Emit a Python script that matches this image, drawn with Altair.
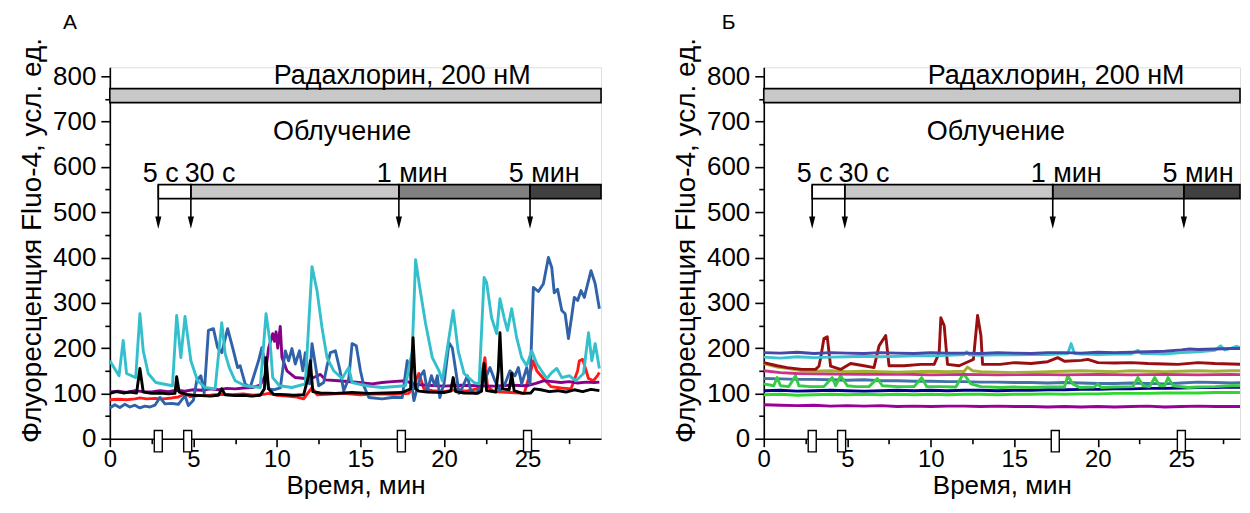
import altair as alt
import pandas as pd

FONT = "Arial"
FS_Y = 26      # y axis labels
FS_YT = 28     # y axis title
FS_X = 24      # x axis labels
FS_XT = 26     # x axis title
FS_ANN = 27    # annotations
FS_LET = 21    # panel letters

# ---------------- data (minutes, fluorescence units) ----------------
A_END = 29.4
B_END = 28.51
Y_TOP = 820

A_CYAN = [(0,172),(0.55,139),(0.8,217),(1.0,144),(1.55,135),(1.8,276),(2.0,194),(2.3,144),(2.75,124),(3.75,117),
          (4.0,272),(4.25,179),(4.5,270),(4.85,172),(5.25,128),(5.7,113),(6.3,110),(6.7,256),(6.9,188),(7.15,157),
          (7.5,128),(8.1,117),(9.0,113),(9.35,276),(9.6,210),(9.75,135),(10.15,117),(10.9,113),(11.7,121),(12.1,380),
          (12.4,327),(12.7,245),(13.0,179),(13.4,150),(13.9,133),(14.3,157),(14.5,124),(15.3,117),(16.3,113),(17.7,117),
          (18.1,194),(18.3,395),(18.55,334),(18.9,254),(19.3,179),(19.7,150),(19.9,128),(20.55,283),(20.85,194),(21.2,144),
          (21.8,124),(22.1,121),(22.4,356),(22.55,345),(22.85,267),(23.15,232),(23.35,309),(23.6,267),(23.8,239),(24.05,287),
          (24.35,223),(24.65,179),(24.95,161),(25.25,194),(25.55,166),(26.15,133),(26.45,146),(26.75,155),(27.05,135),(27.5,139),
          (27.9,128),(28.35,144),(28.65,234),(28.85,172),(29.05,210),(29.3,155)]
A_BLUE = [(0,68),(0.3,75),(0.6,69),(0.9,76),(1.2,70),(1.5,74),(1.8,68),(2.1,72),(2.4,70),(2.7,74),(3.0,91),(3.3,77),
          (3.7,78),(4.1,76),(4.5,95),(4.7,73),(5.0,85),(5.2,128),(5.45,139),(5.65,100),(5.9,239),(6.2,243),(6.45,201),
          (6.7,190),(7.05,243),(7.35,201),(7.65,157),(7.8,161),(8.1,121),(8.4,113),(8.9,172),(9.1,201),(9.25,172),(9.5,110),
          (9.8,108),(10.2,112),(10.5,194),(10.7,172),(10.9,199),(11.1,165),(11.35,194),(11.55,150),(11.7,190),(11.95,121),
          (12.1,210),(12.5,117),(12.8,124),(13.0,161),(13.2,190),(13.5,194),(13.75,155),(14.0,106),(14.3,133),(14.5,210),
          (14.75,205),(15.0,150),(15.2,117),(15.5,91),(16.3,88),(16.9,91),(17.5,91),(17.8,172),(18.0,139),(18.2,84),
          (18.6,139),(18.8,150),(19.0,106),(19.25,139),(19.45,117),(19.6,139),(19.75,91),(20.0,121),(20.3,212),(20.5,200),
          (20.75,139),(20.9,100),(21.1,113),(21.4,139),(21.6,106),(21.9,100),(22.2,113),(22.55,139),(22.75,157),(23.05,128),
          (23.35,106),(23.65,121),(23.95,150),(24.25,139),(24.45,157),(24.65,121),(24.95,157),(25.15,121),(25.35,334),
          (25.65,325),(25.95,342),(26.25,400),(26.45,378),(26.6,322),(26.8,330),(27.05,283),(27.25,276),(27.45,221),
          (27.65,272),(27.8,312),(28.0,305),(28.2,327),(28.4,312),(28.8,371),(29.05,342),(29.3,287)]
A_PURPLE = [(0,103),(0.5,105),(1.0,102),(1.5,106),(2.0,104),(2.5,103),(3.0,106),(3.5,104),(4.0,107),(4.5,105),(5.0,108),
            (5.5,107),(6.0,110),(6.5,108),(7.0,111),(7.5,110),(8.0,112),(8.5,113),(9.0,118),(9.3,140),(9.5,200),(9.75,232),
            (9.85,215),(9.95,236),(10.05,200),(10.2,248),(10.3,180),(10.6,150),(11.1,135),(11.7,133),(12.2,135),(12.6,142),
            (12.9,130),(13.7,128),(14.9,124),(15.7,121),(16.3,124),(16.9,126),(17.7,128),(18.2,120),(19.0,118),(20.0,116),
            (21.0,118),(22.0,117),(23.0,116),(24.0,118),(25.0,117),(25.5,122),(26.0,128),(26.5,126),(27.0,124),(27.5,126),
            (28.0,123),(28.5,125),(29.0,124),(29.3,125)]
A_RED = [(0,86),(0.5,87),(1.0,86),(1.5,88),(1.8,90),(2.2,88),(2.7,89),(3.2,88),(3.7,90),(4.1,92),(4.5,100),(4.8,93),
         (5.3,95),(6.0,96),(6.7,98),(7.3,97),(8.0,99),(8.6,96),(9.2,98),(9.5,100),(10.0,96),(10.6,94),(11.2,92),(11.6,88),
         (12.1,113),(12.4,97),(13.0,98),(14.0,100),(15.0,97),(16.0,99),(17.0,98),(17.9,100),(18.2,120),(18.5,144),(18.8,110),
         (19.3,106),(20.0,104),(20.7,108),(21.3,105),(22.0,110),(22.3,150),(22.45,179),(22.6,115),(23.0,104),(24.0,102),
         (24.8,100),(25.2,150),(25.35,172),(25.55,150),(25.95,133),(26.4,115),(27.0,112),(27.6,110),(28.0,150),(28.1,172),
         (28.3,175),(28.65,133),(28.95,128),(29.2,140),(29.3,146)]
A_BLACK = [(0,100),(0.4,104),(0.8,101),(1.2,103),(1.6,101),(1.8,155),(2.0,103),(2.5,100),(3.0,101),(3.5,99),(3.9,100),
           (4.0,137),(4.15,103),(4.6,98),(5.0,96),(5.5,95),(6.0,94),(6.5,96),(6.7,110),(6.9,97),(7.5,95),(8.0,96),(8.5,94),
           (9.0,96),(9.25,110),(9.35,179),(9.5,110),(9.8,98),(10.5,97),(11.0,96),(11.6,97),(11.9,140),(12.0,172),(12.15,104),
           (12.6,101),(13.5,100),(14.5,102),(15.5,100),(16.5,101),(17.5,102),(18.0,110),(18.15,223),(18.3,110),(18.5,105),
           (19.0,103),(20.0,102),(20.4,105),(20.55,135),(20.7,104),(21.2,101),(22.0,100),(22.25,105),(22.4,166),(22.55,106),
           (23.1,103),(23.25,150),(23.35,234),(23.5,110),(23.9,108),(24.05,144),(24.2,106),(24.7,100),(25.2,101),(25.4,110),
           (25.8,108),(26.3,104),(26.8,106),(27.3,103),(27.8,108),(28.3,104),(28.8,109),(29.3,106)]

B_VIOLET = [(0,190),(1,189),(2,191),(3,188),(4,190),(5,189),(6,188),(7,190),(8,189),(9,188),(10,190),(11,189),(12,189),
            (13,188),(14,190),(15,189),(16,188),(17,190),(18,190),(19,189),(20,191),(21,190),(22,191),(23,192),(24,193),
            (25,196),(25.5,198),(26,197),(27,198),(28,199),(28.9,199)]
B_CYAN = [(0,180),(1,178),(2,181),(3,179),(4,180),(5,181),(6,182),(7,181),(8,182),(9,183),(10,183),(11,184),(12,186),
          (12.15,192),(12.3,185),(13,184),(14,185),(15,185),(16,186),(17,186),(18.2,188),(18.4,210),(18.6,188),(19,187),
          (20,186),(21,187),(22,187),(22.4,195),(22.6,188),(23,188),(24,187),(25,190),(26,192),(27,195),(27.35,205),
          (27.6,196),(28,200),(28.3,204),(28.6,200),(28.9,203)]
B_DARKRED = [(0,168),(0.8,161),(1.4,157),(2.3,153),(3.1,153),(3.3,160),(3.4,177),(3.6,221),(3.8,225),(4.0,160),(4.6,153),
             (5.2,166),(6.0,161),(6.6,157),(6.9,205),(7.3,228),(7.5,161),(8.4,161),(9.4,164),(10.2,164),(10.5,190),(10.6,267),
             (10.8,250),(11.0,164),(11.7,161),(12.3,171),(12.55,175),(12.8,272),(13.0,228),(13.1,164),(14.15,164),(15,168),
             (16,166),(17,170),(17.6,179),(18,171),(19,173),(19.4,175),(20,168),(21,167),(22,168),(23,166),(24,165),
             (24.8,164),(26,168),(27,166),(28,165),(28.9,164)]
B_OLIVE = [(0,166),(0.8,158),(1.5,155),(2.3,150),(3,149),(4,150),(5,148),(6,149),(7,148),(8,147),(9,148),(10,149),(11,148),
           (12,149),(12.2,158),(12.5,150),(13,148),(14,147),(15,146),(16,147),(17,148),(18,149),(19,150),(20,149),(21,148),
           (22,150),(23,149),(24,148),(25,149),(26,150),(27,149),(28,150),(28.9,150)]
B_PINK = [(0,150),(1,146),(2,144),(4,143),(6,142),(8,143),(10,141),(12,142),(14,141),(16,142),(18,141),(20,142),(22,141),
          (24,142),(26,141),(28,142),(28.9,141)]
B_STEEL = [(0,133),(1,132),(2,131),(3,131),(4,130),(5,129),(6,130),(7,128),(8,128),(9,127),(10,127),(11,126),(12,126),
           (13,125),(14,125),(15,124),(16,124),(17,123),(18,124),(19,123),(20,122),(21,122),(22,123),(23,122),(24,121),
           (25,123),(26,125),(27,124),(28,123),(28.9,124)]
B_GREEN = [(0,121),(0.6,117),(0.8,135),(1.0,117),(1.5,115),(1.9,139),(2.1,117),(2.8,115),(3.6,115),(4.1,135),(4.3,117),
           (4.6,139),(5.0,117),(5.5,115),(6.3,115),(6.8,133),(7.1,117),(8.0,115),(9.0,115),(9.45,135),(9.75,115),(10.7,115),
           (11.5,114),(11.95,144),(12.4,121),(13.0,115),(14.2,113),(15,114),(16,113),(17,114),(18.0,114),(18.2,139),
           (18.5,121),(18.9,113),(19.8,114),(20.0,121),(20.2,113),(21,114),(22.1,115),(22.4,135),(22.7,117),(23.1,115),
           (23.4,135),(23.7,117),(24.0,117),(24.2,135),(24.5,117),(25.4,113),(26,114),(27,115),(28,117),(28.9,117)]
B_NAVY = [(0,106),(1,107),(2,105),(3,106),(4,107),(5,106),(6,105),(7,106),(8,107),(9,106),(10,107),(11,106),(12,107),
          (13,107),(14,106),(15,107),(16,107),(17,108),(18,108),(19,109),(20,109),(21,110),(22,110),(23,111),(24,111),
          (25,112),(26,113),(27,113),(28,114),(28.9,113)]
B_LIME = [(0,97),(1,98),(2,96),(3,97),(4,98),(5,97),(6,98),(7,97),(8,98),(9,97),(10,98),(11,97),(12,98),(13,98),(14,97),
          (15,98),(16,98),(17,99),(18,98),(19,99),(20,99),(21,100),(22,100),(23,100),(24,101),(25,101),(26,101),(27,102),
          (28,102),(28.9,102)]
B_PURPLE = [(0,75),(1,74),(2,73),(3,74),(4,72),(5,73),(6,72),(7,73),(8,71),(9,72),(10,71),(11,72),(12,72),(13,71),(14,72),
            (15,71),(16,71),(17,70),(18,71),(19,70),(20,71),(21,70),(22,71),(23,72),(24,70),(25,71),(26,72),(27,71),(28,71),
            (28.9,71)]

A_SERIES = [(A_RED, "#ff1a1a"), (A_PURPLE, "#880088"), (A_BLUE, "#2f62a8"), (A_CYAN, "#33c0cc"), (A_BLACK, "#000000")]
B_SERIES = [(B_PURPLE, "#990099"), (B_LIME, "#2ed82e"), (B_NAVY, "#00008b"), (B_STEEL, "#4471a6"), (B_GREEN, "#33cc44"),
            (B_PINK, "#cc3388"), (B_OLIVE, "#a3ad38"), (B_DARKRED, "#990f0f"), (B_CYAN, "#3cc3d2"), (B_VIOLET, "#4747a8")]

# annotation values (data units)
DRUG_Y = (742, 773)
DRUG_LABEL = ("Радахлорин, 200 нМ", 17.5, 800)
IRR_LABEL = ("Облучение", 13.9, 678)
EXPO_Y = (530, 561)
EXPO_STARTS = [2.9, 4.85, 17.3, 25.15]
EXPO_COLORS = ["#ffffff", "#c8c8c8", "#808080", "#404040"]
ARROW_TOP, ARROW_BOTTOM, ARROW_HEAD = 561, 482, 477
DOSE_LABELS = ["5 с", "30 с", "1 мин", "5 мин"]
DOSE_LABEL_X = [3.05, 6.0, 18.1, 26.0]
DOSE_LABEL_Y = 585
MARK_LEFT = [2.66, 4.42, 17.21, 24.76]
MARK_WIDTH = 0.48
MARK_Y = (-29, 18)

Y_TITLE = "Флуоресценция Fluo-4, усл. ед."
X_TITLE = "Время, мин"
PLOT_H = 372


def panel(series, end, letter, letter_dx, width):
    xs = alt.Scale(domain=[0, end], nice=False, zero=False)
    ys = alt.Scale(domain=[0, Y_TOP], nice=False)
    xaxis = alt.Axis(values=[i * 2.5 for i in range(12)], title=X_TITLE,
                     labelExpr="datum.value % 5 === 0 ? datum.label : ''",
                     tickSize={"condition": {"test": "datum.value % 5 === 0", "value": 8}, "value": 5},
                     grid=False, domainColor="black", tickColor="black", domainWidth=1.6, tickWidth=1.6,
                     labelFont=FONT, labelFontSize=FS_X, labelColor="black", titleFont=FONT, titleFontSize=FS_XT,
                     titleFontWeight="normal", titleColor="black", labelPadding=1, titlePadding=1, labelFlush=False)
    yaxis = alt.Axis(values=list(range(0, 801, 50)), title=Y_TITLE,
                     labelExpr="datum.value % 100 === 0 ? datum.label : ''",
                     tickSize={"condition": {"test": "datum.value % 100 === 0", "value": 9}, "value": 5},
                     grid=False, domainColor="black", tickColor="black", domainWidth=1.6, tickWidth=1.6,
                     labelFont=FONT, labelFontSize=FS_Y, labelColor="black", titleFont=FONT, titleFontSize=FS_YT,
                     titleFontWeight="normal", titleColor="black", labelPadding=5,
                     titleX=-63, titleY=173, titleAngle=270, titleBaseline="bottom", titleAlign="center")

    def X(f):
        return alt.X(f, type="quantitative", scale=xs, axis=xaxis)

    def Y(f):
        return alt.Y(f, type="quantitative", scale=ys, axis=yaxis)

    layers = []
    for pts, col in series:
        df = pd.DataFrame(pts, columns=["t", "v"])
        layers.append(alt.Chart(df).mark_line(strokeWidth=2.9, color=col, strokeJoin="round", clip=True).encode(
            x=X("t"), y=Y("v"), order="t:Q"))

    drug = pd.DataFrame({"x": [0], "x2": [end], "y": [DRUG_Y[0]], "y2": [DRUG_Y[1]]})
    layers.append(alt.Chart(drug).mark_rect(fill="#c8c8c8", stroke="black", strokeWidth=1.6).encode(
        x=X("x"), x2="x2", y=Y("y"), y2="y2"))

    ends = EXPO_STARTS[1:] + [end]
    expo = pd.DataFrame({"x": EXPO_STARTS, "x2": ends, "c": EXPO_COLORS,
                         "y": [EXPO_Y[0]] * 4, "y2": [EXPO_Y[1]] * 4})
    layers.append(alt.Chart(expo).mark_rect(stroke="black", strokeWidth=1.6).encode(
        x=X("x"), x2="x2", y=Y("y"), y2="y2", fill=alt.Fill("c:N", scale=None)))

    arr = pd.DataFrame({"x": EXPO_STARTS, "y": [ARROW_TOP] * 4, "y2": [ARROW_BOTTOM] * 4, "h": [ARROW_HEAD] * 4})
    layers.append(alt.Chart(arr).mark_rule(color="black", strokeWidth=1.6).encode(x=X("x"), y=Y("y"), y2="y2"))
    layers.append(alt.Chart(arr).mark_point(shape="M-0.5,-1L0.5,-1L0,1Z", filled=True, color="black",
                                            size=150, opacity=1).encode(x=X("x"), y=Y("h")))

    lab = pd.DataFrame({"x": DOSE_LABEL_X, "y": [DOSE_LABEL_Y] * 4, "s": DOSE_LABELS})
    lab2 = pd.DataFrame({"x": [DRUG_LABEL[1], IRR_LABEL[1]], "y": [DRUG_LABEL[2], IRR_LABEL[2]],
                         "s": [DRUG_LABEL[0], IRR_LABEL[0]]})
    for d in (lab, lab2):
        layers.append(alt.Chart(d).mark_text(font=FONT, fontSize=FS_ANN, color="black", align="center",
                                             baseline="middle").encode(x=X("x"), y=Y("y"), text="s:N"))

    marks = pd.DataFrame({"x": MARK_LEFT, "x2": [m + MARK_WIDTH for m in MARK_LEFT],
                          "y": [MARK_Y[0]] * 4, "y2": [MARK_Y[1]] * 4})
    layers.append(alt.Chart(marks).mark_rect(fill="white", stroke="black", strokeWidth=1.4).encode(
        x=X("x"), x2="x2", y=Y("y"), y2="y2"))

    # panel letter, placed relative to the plot's top-left corner
    let = pd.DataFrame({"s": [letter]})
    layers.append(alt.Chart(let).mark_text(font=FONT, fontSize=FS_LET, color="black", align="left",
                                           baseline="middle").encode(
        x=alt.value(letter_dx), y=alt.value(-44), text="s:N"))

    return alt.layer(*layers).properties(width=width, height=PLOT_H)


pa = panel(A_SERIES, A_END, "А", -47, 492)
pb = panel(B_SERIES, B_END, "Б", -42, 477)

chart = alt.hconcat(pa, pb, spacing=69).properties(
    padding={"left": 10, "top": 3, "right": 0, "bottom": 0}
).configure_view(stroke=None).configure(background="white")

chart.save("out.html", embed_options={"renderer": "svg", "actions": False})
